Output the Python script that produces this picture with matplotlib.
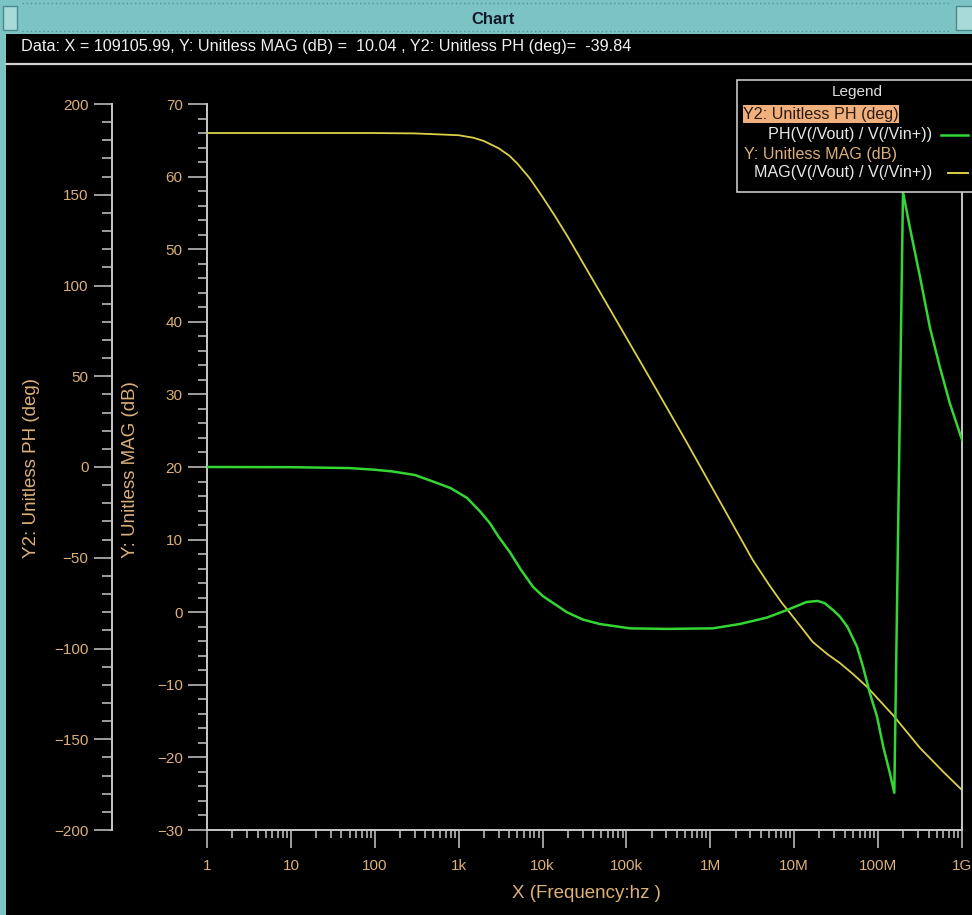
import numpy as np
import matplotlib
matplotlib.use("Agg")
import matplotlib.pyplot as plt
from matplotlib.patches import Rectangle
from matplotlib.lines import Line2D
from matplotlib.ticker import FixedLocator, FuncFormatter, MultipleLocator, NullFormatter

plt.rcParams['font.family'] = ['Liberation Sans', 'DejaVu Sans']

# ---- AC response data -------------------------------------------------
freq_mag = [1, 10, 100, 300, 1e3, 1.5e3, 2e3, 3e3, 4e3, 5e3, 7e3, 1e4, 1.4e4,
            2e4, 3e4, 5e4, 1e5, 2e5, 5e5, 1e6, 2e6, 3.2e6, 5e6, 7.1e6, 8.9e6,
            1.2e7, 1.66e7, 2.5e7, 3.5e7, 5e7, 7.4e7, 1.51e8, 3.16e8, 6e8, 1e9]
mag_db = [66.0, 66.0, 66.0, 65.95, 65.7, 65.35, 64.9, 63.9, 62.9, 61.8, 59.8,
          57.2, 54.6, 51.7, 48.2, 43.8, 37.8, 31.8, 23.8, 17.6, 11.4, 7.2, 3.8,
          1.3, -0.1, -2.0, -4.1, -5.8, -7.0, -8.5, -10.3, -14.2, -18.7, -22.0,
          -24.5]

freq_ph = [1, 10, 50, 100, 165, 300, 494, 800, 1256, 1800, 2360, 3000, 4090,
           5500, 7690, 10000, 12000, 19500, 30000, 48000, 110e3, 300e3,
           1.07e6, 1.6e6, 2.25e6, 4.7e6, 8.2e6, 14e6, 19e6, 23e6, 29e6, 35e6,
           43e6, 56e6, 66e6, 80e6, 97e6, 115e6, 138e6, 156e6, 198e6, 239e6,
           315e6, 414e6, 545e6, 717e6, 1e9]
phase_deg = [0, -0.1, -0.6, -1.5, -2.5, -4.4, -8, -11.6, -17, -24.5, -31,
             -38.5, -47, -56.5, -66, -71, -73.5, -80, -84, -86.5, -88.9, -89.2,
             -88.9, -87.6, -86.5, -83, -78.8, -74.4, -73.8, -75, -78.8, -82.4,
             -88, -99, -110, -124.8, -137.5, -154, -168.6, -179.5, 151.5, 132,
             105, 77, 55, 35, 15]

x_ticks = [1, 10, 100, 1e3, 1e4, 1e5, 1e6, 1e7, 1e8, 1e9]
x_tick_labels = ["1", "10", "100", "1k", "10k", "100k", "1M", "10M", "100M", "1G"]

data_readout = ("Data: X = 109105.99, Y: Unitless MAG (dB) =  10.04 , "
                "Y2: Unitless PH (deg)=  -39.84")

# ---- styling ----------------------------------------------------------
W, H = 972, 915
BG = "black"
AXIS_C = "#c8c8c8"
LABEL_C = "#dcb07a"
GREEN = "#33d633"
YELLOW = "#dcd048"
TEAL = "#7cc4c4"


def fx(x):
    return x / W


def fy(y):
    return 1 - y / H


fig = plt.figure(figsize=(W / 100, H / 100), dpi=100, facecolor=BG)

# window chrome: title bar, readout row, left frame strip
fig.add_artist(Rectangle((0, fy(34)), 1, 34 / H, transform=fig.transFigure,
                         facecolor=TEAL, edgecolor="none"))
fig.add_artist(Rectangle((fx(0), fy(H)), 6 / W, (H - 34) / H,
                         transform=fig.transFigure, facecolor=TEAL, edgecolor="none"))
fig.add_artist(Rectangle((fx(3), fy(30)), 14 / W, 24 / H, transform=fig.transFigure,
                         facecolor="#a8dada", edgecolor="#4a8a8a", lw=1))
fig.add_artist(Rectangle((fx(956), fy(30)), 20 / W, 24 / H, transform=fig.transFigure,
                         facecolor="#a8dada", edgecolor="#4a8a8a", lw=1))
fig.add_artist(Line2D([fx(22), fx(950)], [fy(3), fy(3)], transform=fig.transFigure,
                      color="#4a9a9a", lw=1, ls=(0, (1, 2))))
fig.add_artist(Line2D([fx(22), fx(950)], [fy(31), fy(31)], transform=fig.transFigure,
                      color="#4a9a9a", lw=1, ls=(0, (1, 2))))
fig.text(fx(493), fy(19), "Chart", ha="center", va="center", fontsize=12,
         fontweight="bold", color="#101828")
fig.add_artist(Line2D([fx(6), 1], [fy(64), fy(64)], transform=fig.transFigure,
                      color="#d0d0d0", lw=1.6))
fig.text(fx(21), fy(46), data_readout, ha="left", va="center", fontsize=11.7,
         color="#f0f0f0")

# ---- plot axes ----------------------------------------------------------
L, R, T, B = 207, 962, 104, 830
ax = fig.add_axes([fx(L), fy(B), (R - L) / W, (B - T) / H])
ax.set_facecolor(BG)
ax.set_xscale("log")
ax.set_xlim(1, 1e9)
ax.set_ylim(-30, 70)

ax.plot(freq_mag, mag_db, color=YELLOW, lw=1.3, zorder=3)

ax2 = ax.twinx()
ax2.set_ylim(-200, 200)
ax2.plot(freq_ph, phase_deg, color=GREEN, lw=1.8, zorder=4)

for a in (ax, ax2):
    for s in a.spines.values():
        s.set_color(AXIS_C)
        s.set_linewidth(1.4)
    a.spines["top"].set_visible(False)

ax.spines["right"].set_visible(False)
ax2.spines["bottom"].set_visible(False)
ax2.spines["right"].set_visible(True)

# phase axis sits further left
ax2.yaxis.set_ticks_position("left")
ax2.yaxis.set_label_position("left")
ax2.spines["left"].set_visible(True)
ax2.spines["left"].set_position(("axes", (112 - L) / (R - L)))

# magnitude ticks
ax.yaxis.set_major_locator(MultipleLocator(10))
ax.yaxis.set_minor_locator(MultipleLocator(2))
ax.tick_params(axis="y", which="major", length=13.5, width=1.1, color=AXIS_C,
               labelcolor=LABEL_C, labelsize=11, pad=4)
ax.tick_params(axis="y", which="minor", length=6.5, width=1.1, color=AXIS_C)

# phase ticks
ax2.yaxis.set_major_locator(MultipleLocator(50))
ax2.yaxis.set_minor_locator(MultipleLocator(10))
ax2.tick_params(axis="y", which="major", length=13, width=1.1, color=AXIS_C,
                labelcolor=LABEL_C, labelsize=11, pad=4, right=False, left=True)
ax2.tick_params(axis="y", which="minor", length=7, width=1.1, color=AXIS_C,
                right=False, left=True)

# frequency ticks
ax.xaxis.set_major_locator(FixedLocator(x_ticks))
ax.xaxis.set_major_formatter(FuncFormatter(
    lambda v, p: x_tick_labels[int(round(np.log10(v)))] if 0 <= round(np.log10(v)) < len(x_tick_labels) else ""))
ax.xaxis.set_minor_locator(FixedLocator(
    [m * 10 ** d for d in range(9) for m in range(2, 10)]))
ax.xaxis.set_minor_formatter(NullFormatter())
ax.tick_params(axis="x", which="major", length=13, width=1.1, color=AXIS_C,
               labelcolor=LABEL_C, labelsize=11, pad=8)
ax.tick_params(axis="x", which="minor", length=5.8, width=1.1, color=AXIS_C)

# axis titles
fig.text(fx(586), fy(893), "X (Frequency:hz )", ha="center", va="center",
         fontsize=13.5, color=LABEL_C)
fig.text(fx(31), fy(468), "Y2: Unitless PH (deg)", ha="center", va="center",
         rotation=90, fontsize=13.5, color=LABEL_C)
fig.text(fx(130), fy(470), "Y: Unitless MAG (dB)", ha="center", va="center",
         rotation=90, fontsize=13.5, color=LABEL_C)

# ---- legend panel -------------------------------------------------------
fig.add_artist(Rectangle((fx(737), fy(192)), (W - 737 + 10) / W, (192 - 80) / H,
                         transform=fig.transFigure, facecolor=BG,
                         edgecolor=AXIS_C, lw=1.2, zorder=10))
fig.text(fx(857), fy(92), "Legend", ha="center", va="center", fontsize=11,
         color="#e0e0e0", zorder=11)
fig.add_artist(Rectangle((fx(743), fy(123)), (899 - 743) / W, 18 / H,
                         transform=fig.transFigure, facecolor="#f0b07e",
                         edgecolor="none", zorder=11))
fig.text(fx(743), fy(114), "Y2: Unitless PH (deg)", ha="left", va="center",
         fontsize=11.6, color="#2a1a10", zorder=12)
fig.text(fx(932), fy(135), "PH(V(/Vout) / V(/Vin+))", ha="right", va="center",
         fontsize=11.6, color="#e8e8e8", zorder=12)
fig.add_artist(Line2D([fx(941), fx(968)], [fy(135), fy(135)],
                      transform=fig.transFigure, color=GREEN, lw=1.8, zorder=12))
fig.text(fx(744), fy(155), "Y: Unitless MAG (dB)", ha="left", va="center",
         fontsize=11.6, color=LABEL_C, zorder=12)
fig.text(fx(932), fy(173), "MAG(V(/Vout) / V(/Vin+))", ha="right", va="center",
         fontsize=11.6, color="#e8e8e8", zorder=12)
fig.add_artist(Line2D([fx(948), fx(968)], [fy(173), fy(173)],
                      transform=fig.transFigure, color=YELLOW, lw=1.4, zorder=12))

fig.savefig("out.png", dpi=100, facecolor=BG)
